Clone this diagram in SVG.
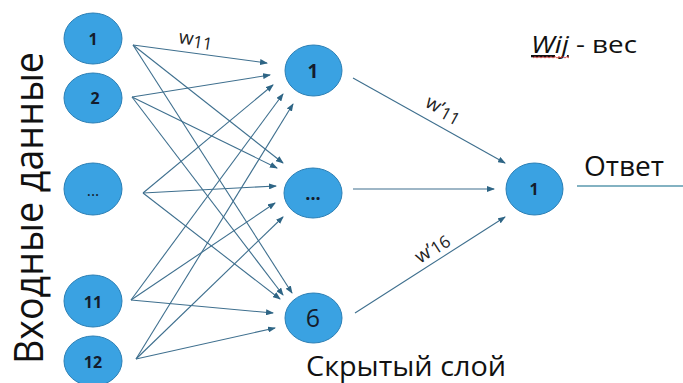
<svg xmlns="http://www.w3.org/2000/svg" width="683" height="383" viewBox="0 0 683 383">
<defs>
<marker id="ah" markerWidth="8" markerHeight="6" refX="7" refY="3" orient="auto" markerUnits="userSpaceOnUse">
<path d="M0,0 L8,3 L0,6 Z" fill="#2e6585"/>
</marker>
</defs>
<style>
.node{fill:#3aa2e2;stroke:#2b7fb5;stroke-width:1}
.lbl{font-family:"Open Sans","Liberation Sans",sans-serif;fill:#141c2c;text-anchor:middle}
.big{font-family:"Open Sans","Liberation Sans",sans-serif;fill:#111}
.c{stroke:#3e6f8e;stroke-width:1.1;fill:none;marker-end:url(#ah)}
.w{font-family:"Open Sans","Liberation Sans",sans-serif;fill:#222}
</style>
<rect width="683" height="383" fill="#ffffff"/>
<g id="connectors">
<line class="c" x1="133" y1="45" x2="267" y2="63"/>
<line class="c" x1="133" y1="45" x2="283" y2="163"/>
<line class="c" x1="133" y1="45" x2="292" y2="293"/>
<line class="c" x1="132" y1="97" x2="270" y2="75"/>
<line class="c" x1="132" y1="97" x2="277" y2="168"/>
<line class="c" x1="132" y1="97" x2="283" y2="295"/>
<line class="c" x1="143" y1="193" x2="273" y2="85"/>
<line class="c" x1="143" y1="193" x2="276" y2="186"/>
<line class="c" x1="143" y1="193" x2="280" y2="299"/>
<line class="c" x1="131" y1="300" x2="283" y2="94"/>
<line class="c" x1="131" y1="300" x2="275" y2="203"/>
<line class="c" x1="131" y1="300" x2="273" y2="313"/>
<line class="c" x1="136" y1="359" x2="293" y2="104"/>
<line class="c" x1="136" y1="359" x2="283" y2="217"/>
<line class="c" x1="136" y1="359" x2="275" y2="328"/>
<line class="c" x1="353" y1="78" x2="505" y2="163"/>
<line class="c" x1="353" y1="189" x2="494" y2="189"/>
<line class="c" x1="355" y1="313" x2="505" y2="217"/>
<line x1="577" y1="186" x2="683" y2="186" stroke="#5a98ae" stroke-width="1.3"/>
</g>
<g id="in1"><ellipse class="node" cx="93" cy="38.5" rx="29" ry="25.5"/><text class="lbl" x="93" y="45" font-size="16" font-weight="bold">1</text></g>
<g id="in2"><ellipse class="node" cx="93" cy="98" rx="29" ry="25"/><text class="lbl" x="95" y="104" font-size="16" font-weight="bold">2</text></g>
<g id="in3"><ellipse class="node" cx="93" cy="189" rx="29" ry="26"/><text class="lbl" x="93" y="196" font-size="16">...</text></g>
<g id="in11"><ellipse class="node" cx="93" cy="301" rx="29" ry="26"/><text class="lbl" x="93" y="308" font-size="16" font-weight="bold">11</text></g>
<g id="in12"><ellipse class="node" cx="93" cy="361" rx="29" ry="25"/><text class="lbl" x="93" y="368" font-size="16" font-weight="bold">12</text></g>
<g id="h1"><ellipse class="node" cx="313.5" cy="70.5" rx="28.5" ry="25.5"/><text class="lbl" x="313" y="78" font-size="19" font-weight="bold">1</text></g>
<g id="h2"><ellipse class="node" cx="313" cy="193" rx="29" ry="25"/><text class="lbl" x="313" y="200" font-size="18" font-weight="bold">...</text></g>
<g id="h6"><ellipse class="node" cx="313.5" cy="318" rx="28.5" ry="25"/><text class="lbl" x="313" y="327" font-size="25">6</text></g>
<g id="out1"><ellipse class="node" cx="534.5" cy="189" rx="28.5" ry="26"/><text class="lbl" x="534" y="195" font-size="16" font-weight="bold">1</text></g>
<g id="labels">
<text class="w" transform="rotate(9 178 43)" x="178" y="43" font-size="19">w<tspan font-size="17" dy="2">11</tspan></text>
<text class="w" transform="rotate(29 424 106)" x="424" y="106" font-size="19">w’<tspan font-size="17" dy="2">11</tspan></text>
<text class="w" transform="rotate(-33 420 264)" x="420" y="264" font-size="19">w’<tspan font-size="17" dy="1">16</tspan></text>
<text class="big" x="531" y="53" font-size="23" textLength="106" lengthAdjust="spacingAndGlyphs"><tspan font-style="italic" text-decoration="underline">Wij</tspan> - вес</text>
<path d="M533,58 l2,-1.5 l2,1.5 l2,-1.5 l2,1.5 l2,-1.5 l2,1.5 l2,-1.5 l2,1.5 l2,-1.5 l2,1.5 l2,-1.5 l2,1.5 l2,-1.5 l2,1.5 l2,-1.5 l2,1.5 l2,-1.5 l2,1.5" stroke="#e03030" stroke-width="0.8" fill="none"/>
<text class="big" x="584" y="176" font-size="27" textLength="80" lengthAdjust="spacingAndGlyphs">Ответ</text>
<text class="big" x="306" y="376" font-size="28" textLength="200" lengthAdjust="spacingAndGlyphs">Скрытый слой</text>
<text class="big" transform="rotate(-90 43 364)" x="43" y="364" font-size="40" textLength="312" lengthAdjust="spacingAndGlyphs">Входные данные</text>
</g>
</svg>
